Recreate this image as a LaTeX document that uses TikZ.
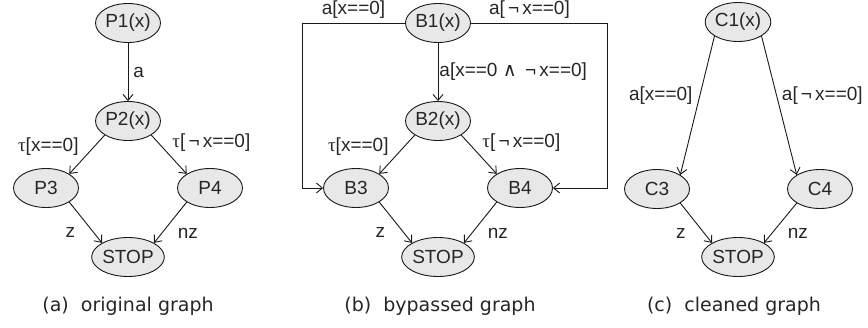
\documentclass[tikz,border=0pt]{standalone}
\usepackage{fontspec}
\setmainfont{Liberation Sans}
\newfontfamily\capfont{DejaVu Sans}
\newfontfamily\greekfont{Liberation Serif}
\usetikzlibrary{positioning, shapes.geometric, arrows.meta}

\newcommand{\tauch}{{\greekfont τ}}
\newcommand{\negch}{\,¬\,}
\newcommand{\andch}{{\capfont ∧}}

\begin{document}
\begin{tikzpicture}[
        x=1pt, y=-1pt,
        node distance=98pt and 82pt, on grid,
        state/.style={ellipse, draw=black!90, fill=black!9, line width=0.9pt,
                      minimum width=65pt, minimum height=39pt, inner sep=0pt,
                      font=\fontsize{19}{21}\selectfont, text=black!85},
        lbl/.style={font=\fontsize{19}{21}\selectfont, text=black!85, inner sep=3pt},
        caption/.style={font=\capfont\fontsize{19}{21}\selectfont, text=black!85, anchor=base},
        arrow/.style={-{Straight Barb[length=6pt,width=10pt]}, line width=0.9pt, draw=black!90}
    ]
    \useasboundingbox (0,0) rectangle (868,327);

    %% (a) original graph
    \node[state] (p1) at (128,23) {P1(x)};
    \node[state, below=98pt of p1] (p2) {P2(x)};
    \node[state, below left=67pt and 82pt of p2] (p3) {P3};
    \node[state, below right=67pt and 82pt of p2] (p4) {P4};
    \node[state, below right=69pt and 82pt of p3] (pstop) {STOP};
    \draw[arrow] (p1) -- node[lbl, right, xshift=2pt] {a} (p2);
    \draw[arrow] (p2.south west) -- node[lbl, above left, xshift=-5pt, yshift=-4pt]
                                   {\tauch[x==0]} (p3.north east);
    \draw[arrow] (p2.south east) -- node[lbl, above right] {\tauch[\negch x==0]} (p4.north west);
    \draw[arrow] (p3.south east) -- node[lbl, below left, xshift=-7pt, yshift=-2pt] {z} (pstop.north west);
    \draw[arrow] (p4.south west) -- node[lbl, below right, xshift=4pt, yshift=-2pt] {nz} (pstop.north east);
    \node[caption] (capa) at (128,311) {(a)\ \ original graph};

    %% (b) bypassed graph
    \node[state] (b1) at (438,23) {B1(x)};
    \node[state, below=98pt of b1] (b2) {B2(x)};
    \node[state, below left=67pt and 82pt of b2] (b3) {B3};
    \node[state, below right=67pt and 82pt of b2] (b4) {B4};
    \node[state, below right=69pt and 82pt of b3] (bstop) {STOP};
    \draw[arrow] (b1) -- node[lbl, right, inner sep=1pt] {a[x==0 \andch\ \negch x==0]} (b2);
    \draw[arrow] (b1.west) -| node[lbl, above, pos=0.25, yshift=1pt] {a[x==0]}
                 ([xshift=-21pt]b3.west) -- (b3.west);
    \draw[arrow] (b1.east) -| node[lbl, above, pos=0.215, yshift=1pt] {a[\negch x==0]}
                 ([xshift=54pt]b4.east) -- (b4.east);
    \draw[arrow] (b2.south west) -- node[lbl, above left, xshift=-5pt, yshift=-4pt]
                                   {\tauch[x==0]} (b3.north east);
    \draw[arrow] (b2.south east) -- node[lbl, above right] {\tauch[\negch x==0]} (b4.north west);
    \draw[arrow] (b3.south east) -- node[lbl, below left, xshift=-7pt, yshift=-2pt] {z} (bstop.north west);
    \draw[arrow] (b4.south west) -- node[lbl, below right, xshift=4pt, yshift=-2pt] {nz} (bstop.north east);
    \node[caption] (capb) at (440,311) {(b)\ \ bypassed graph};

    %% (c) cleaned graph
    \node[state] (c1) at (738,22) {C1(x)};
    \node[state, below left=167pt and 81pt of c1] (c3) {C3};
    \node[state, below right=167pt and 82pt of c1] (c4) {C4};
    \node[state, below right=68pt and 81pt of c3] (cstop) {STOP};
    \draw[arrow] (c1.south west) -- node[lbl, left, pos=0.425, xshift=-4pt] {a[x==0]} (c3.north east);
    \draw[arrow] (c1.south east) -- node[lbl, right, pos=0.425, xshift=2pt] {a[\negch x==0]} (c4.north west);
    \draw[arrow] (c3.south east) -- node[lbl, below left, xshift=-7pt, yshift=-2pt] {z} (cstop.north west);
    \draw[arrow] (c4.south west) -- node[lbl, below right, xshift=4pt, yshift=-2pt] {nz} (cstop.north east);
    \node[caption] (capc) at (734,311) {(c)\ \ cleaned graph};

\end{tikzpicture}
\end{document}
